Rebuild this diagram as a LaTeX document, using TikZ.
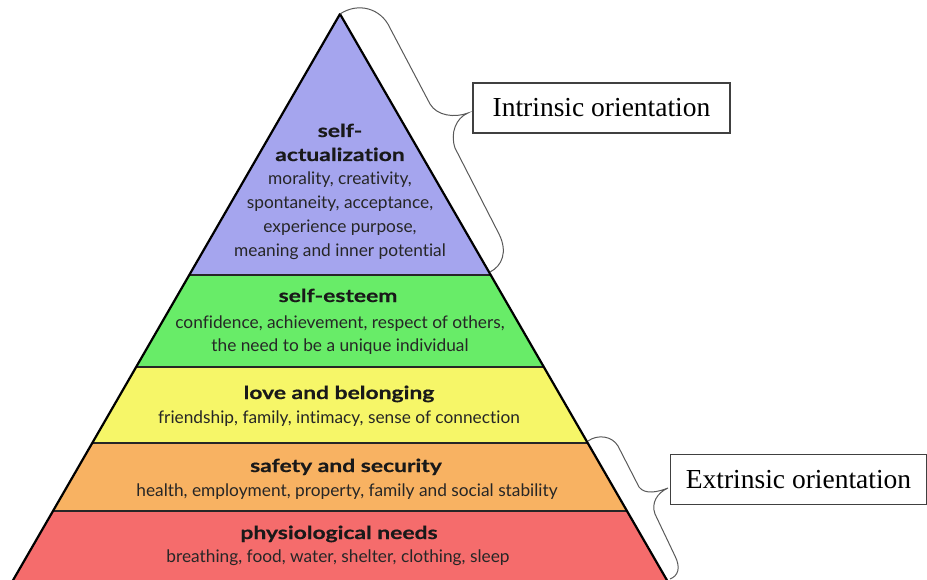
\documentclass[tikz,border=0pt]{standalone}
\usepackage{fontspec}
\setmainfont{Liberation Serif}
\newfontfamily\pyrfont[Ligatures=NoCommon]{Lato}
\newfontfamily\titlefont[Ligatures=NoCommon, FakeStretch=1.27, FakeBold=0.6]{Lato}
\usepackage{xcolor}
\usetikzlibrary{calc, positioning}

\definecolor{actcol}{RGB}{165,165,238}
\definecolor{estcol}{RGB}{104,236,104}
\definecolor{lovecol}{RGB}{246,246,104}
\definecolor{safecol}{RGB}{248,178,98}
\definecolor{physcol}{RGB}{245,108,108}

\tikzset{
    level title/.style={font=\titlefont\bfseries\fontsize{18}{20}\selectfont,
        text=black!90, anchor=base, inner sep=0pt},
    level text/.style={font=\pyrfont\fontsize{17.3}{24}\selectfont,
        text=black!85, anchor=base, inner sep=0pt},
    orient box/.style={draw=black!75, line width=1.2pt,
        font=\fontsize{27.5}{30}\selectfont,
        minimum height=50pt, inner sep=0pt},
    brace line/.style={draw=black!65, line width=1pt}
}

\begin{document}
\begin{tikzpicture}[x=1pt, y=-1pt, >=latex]

    \useasboundingbox (0,0) rectangle (927,580);

    % 1. Corners of the pyramid
    \coordinate (apex) at (340,14);
    \coordinate (baseL) at (12,582);
    \coordinate (baseR) at (668,582);

    % 2. Coloured levels, cut to the triangle
    \begin{scope}
        \clip (apex) -- (baseL) -- (baseR) -- cycle;
        \fill[actcol] (0,0) rectangle (927,275);
        \fill[estcol] (0,275) rectangle (927,367);
        \fill[lovecol] (0,367) rectangle (927,443);
        \fill[safecol] (0,443) rectangle (927,511);
        \fill[physcol] (0,511) rectangle (927,590);
        \foreach \yy in {275,367,443,511}
            \draw[line width=1.6pt, black!85] (0,\yy) -- (927,\yy);
    \end{scope}

    % Outline of the pyramid
    \draw[line width=2.2pt, line join=round]
        (apex) -- (baseL) -- (baseR) -- cycle;

    % 3. Texts of each level
    \node[level title] (actA) at (340,137) {self-};
    \node[level title] (actB) at (340,161) {actualization};
    \node[level text] (act1) at (340,185) {morality, creativity,};
    \node[level text] (act2) at (340,209) {spontaneity, acceptance,};
    \node[level text] (act3) at (340,233) {experience purpose,};
    \node[level text] (act4) at (340,257) {meaning and inner potential};

    \node[level title] (est) at (338,302) {self-esteem};
    \node[level text] (est1) at (340,328)
        {confidence, achievement, respect of others,};
    \node[level text] (est2) at (340,352)
        {the need to be a unique individual};

    \node[level title] (love) at (339,399) {love and belonging};
    \node[level text] (love1) at (339,423)
        {friendship, family, intimacy, sense of connection};

    \node[level title] (safe) at (346,472) {safety and security};
    \node[level text] (safe1) at (347,496)
        {health, employment, property, family and social stability};

    \node[level title] (phys) at (339,539) {physiological needs};
    \node[level text] (phys1) at (338,562)
        {breathing, food, water, shelter, clothing, sleep};

    % 4. Orientation boxes
    \node[orient box, minimum width=257pt] (intrinsic) at (601.5,108)
        {Intrinsic orientation};
    \node[orient box, minimum width=256pt] (extrinsic) at (798.5,479.5)
        {Extrinsic orientation};

    % 5. Braces pointing to the boxes
    \coordinate (tipI) at (468,113);
    \coordinate (tipE) at (668,488);

    \draw[brace line]
        (apex) .. controls (358,2) and (381,8) .. (390,28)
        -- (430,104)
        .. controls (437,116) and (455,118) .. (tipI)
        .. controls (456,118) and (450,133) .. (455,148)
        -- (499,234)
        .. controls (508,252) and (502,266) .. (490,272);

    \draw[brace line]
        (588,441) .. controls (598,434) and (612,436) .. (618,446)
        -- (639,487)
        .. controls (645,495) and (658,492) .. (tipE)
        .. controls (657,493) and (651,503) .. (655,514)
        -- (675,556)
        .. controls (681,568) and (678,576) .. (670,579);

\end{tikzpicture}
\end{document}
